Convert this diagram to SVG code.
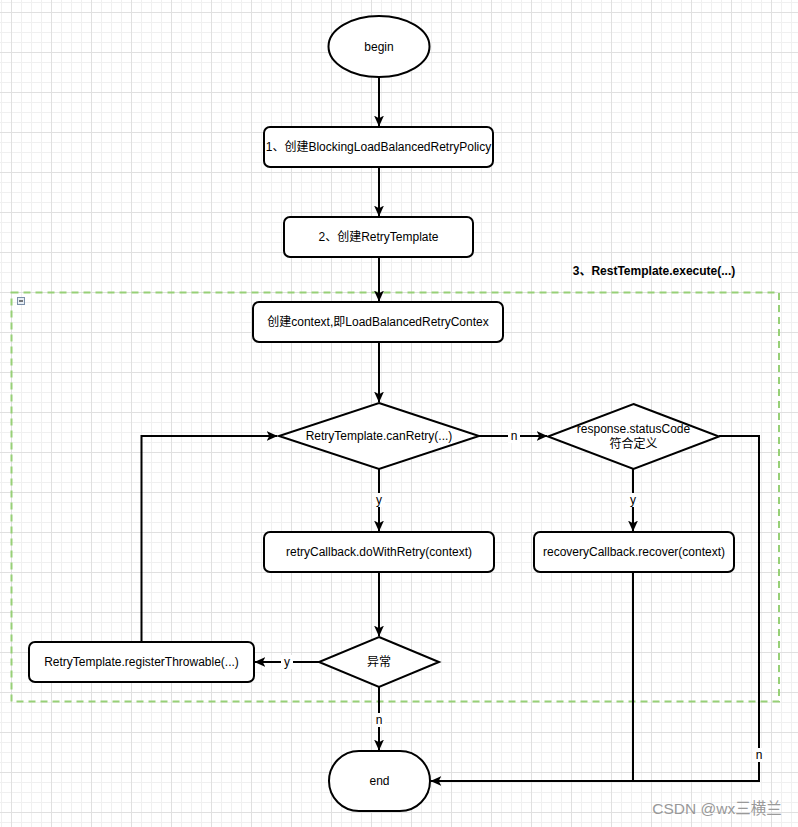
<svg xmlns="http://www.w3.org/2000/svg" width="798" height="827" viewBox="0 0 798 827">
<defs>
<pattern id="grid" x="11" y="12" width="40" height="40" patternUnits="userSpaceOnUse">
<path d="M10.5,0V40M20.5,0V40M30.5,0V40M0,10.5H40M0,20.5H40M0,30.5H40" stroke="#f0f0f0" stroke-width="1" fill="none"/>
<path d="M0.5,0V40M0,0.5H40" stroke="#e0e0e0" stroke-width="1" fill="none"/>
</pattern>
<marker id="arr" viewBox="0 0 10 10" refX="9.5" refY="5" markerWidth="11" markerHeight="11" markerUnits="userSpaceOnUse" orient="auto">
<path d="M0,0.5 L10,5 L0,9.5 L2.5,5 z" fill="#000"/>
</marker>
<style>
.shape{fill:#fff;stroke:#000;stroke-width:2}
.t{font-family:"Liberation Sans","Noto Sans CJK SC",Arial,sans-serif;font-size:12px;fill:#000;text-anchor:middle;dominant-baseline:central}
.edge{fill:none;stroke:#000;stroke-width:2}
.lbl{font-family:"Liberation Sans","Noto Sans CJK SC",Arial,sans-serif;font-size:12px;fill:#000;text-anchor:middle;dominant-baseline:central}
.lblbg{fill:#fff}
</style>
</defs>
<rect width="798" height="827" fill="#fff"/>
<rect width="798" height="827" fill="url(#grid)"/>

<g id="group-execute">
<rect x="11.5" y="292.5" width="767.5" height="409" fill="none" stroke="#97d077" stroke-width="2" stroke-dasharray="7 5"/>
<rect x="17.5" y="297.5" width="7" height="7" fill="#e8eef5" stroke="#7a8ea8" stroke-width="1"/>
<path d="M19,301H23" stroke="#000" stroke-width="1"/>
<text x="654" y="271" class="t" style="font-weight:bold">3、RestTemplate.execute(...)</text>
</g>

<g id="connectors">
<path class="edge" d="M379,77V126" marker-end="url(#arr)"/>
<path class="edge" d="M379,167V216" marker-end="url(#arr)"/>
<path class="edge" d="M379,257V301" marker-end="url(#arr)"/>
<path class="edge" d="M379,342V402" marker-end="url(#arr)"/>
<path class="edge" d="M479,436H547" marker-end="url(#arr)"/>
<path class="edge" d="M379,469V531" marker-end="url(#arr)"/>
<path class="edge" d="M633,469V531" marker-end="url(#arr)"/>
<path class="edge" d="M379,572V636" marker-end="url(#arr)"/>
<path class="edge" d="M320,662H255" marker-end="url(#arr)"/>
<path class="edge" d="M141.5,642V436H277" marker-end="url(#arr)"/>
<path class="edge" d="M379,687V750" marker-end="url(#arr)"/>
<path class="edge" d="M719,436H759V781H431" marker-end="url(#arr)"/>
<path class="edge" d="M633,572V781"/>
<rect class="lblbg" x="508" y="429" width="12" height="14"/>
<text class="lbl" x="514" y="436">n</text>
<rect class="lblbg" x="373" y="493" width="12" height="14"/>
<text class="lbl" x="379" y="500">y</text>
<rect class="lblbg" x="627" y="493" width="12" height="14"/>
<text class="lbl" x="633" y="500">y</text>
<rect class="lblbg" x="281" y="655" width="12" height="14"/>
<text class="lbl" x="287" y="662">y</text>
<rect class="lblbg" x="373" y="713" width="12" height="14"/>
<text class="lbl" x="379" y="720">n</text>
<rect class="lblbg" x="753" y="748" width="12" height="14"/>
<text class="lbl" x="759" y="755">n</text>
</g>

<g id="begin">
<ellipse class="shape" cx="379" cy="46.5" rx="50.5" ry="30.5"/>
<text class="t" x="379" y="46.5">begin</text>
</g>
<g id="step1">
<rect class="shape" x="264" y="127" width="229" height="40" rx="6"/>
<text class="t" x="378.5" y="147">1、创建BlockingLoadBalancedRetryPolicy</text>
</g>
<g id="step2">
<rect class="shape" x="284" y="217" width="189" height="40" rx="6"/>
<text class="t" x="378.5" y="237">2、创建RetryTemplate</text>
</g>
<g id="create-context">
<rect class="shape" x="253" y="302" width="250" height="40" rx="6"/>
<text class="t" x="378" y="322">创建context,即LoadBalancedRetryContex</text>
</g>
<g id="can-retry">
<path class="shape" d="M379,403L479,436L379,469L279,436Z"/>
<text class="t" x="379" y="436">RetryTemplate.canRetry(...)</text>
</g>
<g id="status-code">
<path class="shape" d="M633.5,404L719,436.5L633.5,469L548,436.5Z"/>
<text class="t" x="633.5" y="429">response.statusCode</text>
<text class="t" x="633.5" y="444">符合定义</text>
</g>
<g id="do-with-retry">
<rect class="shape" x="264" y="532" width="230" height="40" rx="6"/>
<text class="t" x="379" y="552">retryCallback.doWithRetry(context)</text>
</g>
<g id="recover">
<rect class="shape" x="534" y="532" width="200" height="40" rx="6"/>
<text class="t" x="634" y="552">recoveryCallback.recover(context)</text>
</g>
<g id="exception">
<path class="shape" d="M379,637L439,662L379,687L319,662Z"/>
<text class="t" x="379" y="662">异常</text>
</g>
<g id="register-throwable">
<rect class="shape" x="29" y="642" width="225" height="40" rx="6"/>
<text class="t" x="141.5" y="662">RetryTemplate.registerThrowable(...)</text>
</g>
<g id="end">
<rect class="shape" x="329" y="751" width="101" height="60" rx="30"/>
<text class="t" x="379.5" y="781">end</text>
</g>
<text x="717" y="808" style="font-family:'Liberation Sans','Noto Sans CJK SC',Arial,sans-serif;font-size:15.5px;fill:#999;text-anchor:middle;dominant-baseline:central">CSDN @wx三横兰</text>
</svg>
